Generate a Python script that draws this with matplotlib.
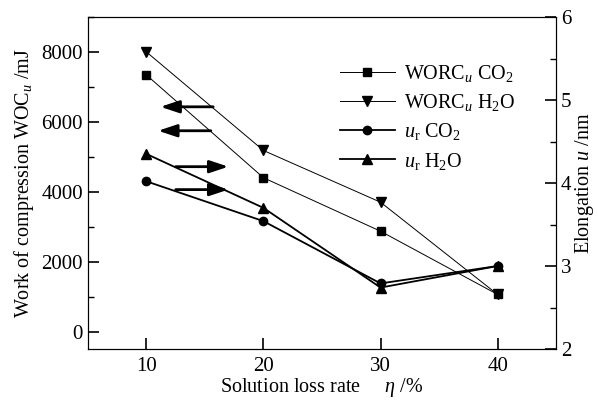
import numpy as np
import matplotlib
matplotlib.use('Agg')
import matplotlib.pyplot as plt
from matplotlib.ticker import MultipleLocator

plt.rcParams['font.family'] = ['Liberation Serif', 'DejaVu Serif']
plt.rcParams['mathtext.fontset'] = 'custom'
plt.rcParams['mathtext.rm'] = 'Liberation Serif'
plt.rcParams['mathtext.it'] = 'Liberation Serif:italic'
plt.rcParams['font.size'] = 15

# solution loss rate (%)
eta = [10, 20, 30, 40]
# work of compression (mJ), left axis
worc_co2 = [7340, 4400, 2870, 1060]
worc_h2o = [8000, 5180, 3700, 1060]
# elongation (nm), right axis
u_co2 = [4.02, 3.54, 2.79, 3.00]
u_h2o = [4.35, 3.70, 2.74, 3.00]

fig = plt.figure(figsize=(5.98, 4.0), dpi=100)
ax = fig.add_axes([0.147, 0.1275, 0.783, 0.83])
ax2 = ax.twinx()

l2, = ax.plot(eta, worc_h2o, color='k', lw=0.7, marker='v', ms=6.5, label=r'WORC$_{\mathit{u}}$ H$_2$O')
l1, = ax.plot(eta, worc_co2, color='k', lw=0.7, marker='s', ms=6, label=r'WORC$_{\mathit{u}}$ CO$_2$')
l4, = ax2.plot(eta, u_h2o, color='k', lw=1.3, marker='^', ms=6.5, label=r'$u_\mathrm{r}$ H$_2$O')
l3, = ax2.plot(eta, u_co2, color='k', lw=1.3, marker='o', ms=6, label=r'$u_\mathrm{r}$ CO$_2$')

ax.set_xlim(5, 45)
ax.set_ylim(-500, 9000)
ax2.set_ylim(2, 6)
ax.set_xticks(eta)
ax.yaxis.set_major_locator(MultipleLocator(2000))
ax.yaxis.set_minor_locator(MultipleLocator(1000))
ax2.yaxis.set_major_locator(MultipleLocator(1))
ax2.yaxis.set_minor_locator(MultipleLocator(0.5))

ax.tick_params(axis='both', which='major', direction='in', length=8, width=1.2, labelsize=15)
ax.tick_params(axis='y', which='minor', direction='in', length=4, width=1)
ax.tick_params(axis='x', pad=6)
ax2.tick_params(axis='y', which='major', direction='in', length=8, width=1.2, labelsize=15)
ax2.tick_params(axis='y', which='minor', direction='in', length=4, width=1)
for a in (ax, ax2):
    for s in a.spines.values():
        s.set_linewidth(0.8)

ax.set_xlabel(r'Solution loss rate     $\mathit{\eta}$ /%', fontsize=14.5, labelpad=0)
ax.set_ylabel(r'Work of compression WOC$_{\mathit{u}}$ /mJ', fontsize=14.5, labelpad=4)
ax2.set_ylabel(r'Elongation $\mathit{u}$ /nm', fontsize=14.5, labelpad=1)

# direction arrows pointing to the matching axis
arrow_y = [6430, 5745, 4717, 4061]
arrow_from = [15.7, 15.5, 12.5, 12.5]
arrow_to = [11.2, 11.0, 17.0, 17.0]
for y, x0, x1 in zip(arrow_y, arrow_from, arrow_to):
    ax.annotate('', xy=(x1, y), xytext=(x0, y),
                arrowprops=dict(arrowstyle='-|>,head_length=0.75,head_width=0.25',
                                color='k', lw=2, shrinkA=0, shrinkB=0))

ax.legend(handles=[l1, l2, l3, l4], loc='upper left', bbox_to_anchor=(0.5, 0.915),
          frameon=False, handlelength=2.7, handletextpad=0.45, labelspacing=0.4,
          fontsize=14.5)

fig.savefig('out.png', dpi=100)
